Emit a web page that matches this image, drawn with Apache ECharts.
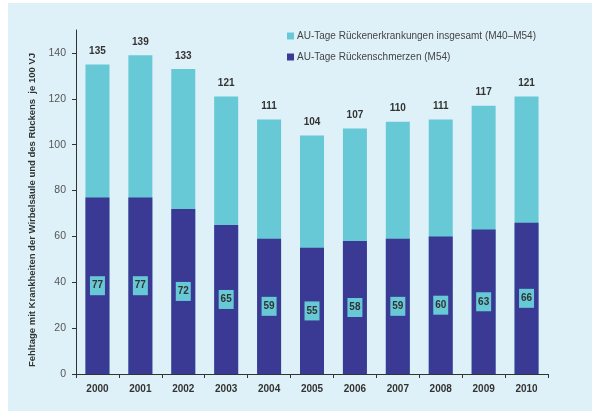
<!DOCTYPE html>
<html>
<head>
<meta charset="utf-8">
<script src="https://cdn.jsdelivr.net/npm/echarts@6/dist/echarts.min.js"></script>
<style>
  html, body { margin: 0; padding: 0; background: #ffffff; }
  #panel { position: absolute; left: 8px; top: 3px; width: 584px; height: 408px; background: #dff1f8; }
  #chart { position: absolute; left: 0; top: 0; width: 592px; height: 411px; }
</style>
</head>
<body>
<div id="panel"></div>
<div id="chart"></div>
<script>
// Jahre
const years = ['2000', '2001', '2002', '2003', '2004', '2005', '2006', '2007', '2008', '2009', '2010'];
// AU-Tage Rückenerkrankungen insgesamt (M40–M54) je 100 VJ
const totalDays = [135, 139, 133, 121, 111, 104, 107, 110, 111, 117, 121];
// AU-Tage Rückenschmerzen (M54) je 100 VJ
const backPainDays = [77, 77, 72, 65, 59, 55, 58, 59, 60, 63, 66];
// Achsenbeschriftung
const yTicks = [0, 20, 40, 60, 80, 100, 120, 140];

const nameTotal = 'AU-Tage Rückenerkrankungen insgesamt (M40–M54)';
const nameBack = 'AU-Tage Rückenschmerzen (M54)';
const cyan = '#67c8d6';
const navy = '#3a3a94';
const font = 'Liberation Sans, Arial, sans-serif';

const chart = echarts.init(document.getElementById('chart'), null, { renderer: 'canvas' });
chart.setOption({
  backgroundColor: 'transparent',
  animation: false,
  textStyle: { fontFamily: font },
  grid: { left: 76, right: 44, top: 30, bottom: 37, containLabel: false },
  legend: {
    orient: 'vertical',
    left: 282,
    top: 25,
    itemWidth: 7,
    itemHeight: 7,
    itemGap: 9,
    icon: 'rect',
    textStyle: { fontSize: 10, color: '#444', fontFamily: font, lineHeight: 12, padding: [0, 0, 0, -2] },
    data: [nameTotal, nameBack]
  },
  xAxis: {
    type: 'category',
    data: years,
    axisLine: { lineStyle: { color: '#333', width: 1 } },
    axisTick: { show: true, length: 4, alignWithLabel: false, lineStyle: { color: '#333' } },
    axisLabel: { color: '#333', fontSize: 10, fontWeight: 'bold', margin: 10, fontFamily: font }
  },
  yAxis: {
    type: 'value',
    min: 0,
    max: 150,
    interval: 20,
    name: 'Fehltage mit Krankheiten der Wirbelsäule und des Rückens  je 100 VJ',
    nameLocation: 'middle',
    nameRotate: 90,
    nameGap: 38,
    nameTextStyle: { fontSize: 9.5, fontWeight: 'bold', color: '#333', fontFamily: font, padding: [0, 0, 0, -16] },
    axisLine: { show: true, lineStyle: { color: '#333', width: 1 } },
    axisTick: { show: true, length: 4, lineStyle: { color: '#333' } },
    splitLine: { show: false },
    axisLabel: {
      color: '#555', fontSize: 10.5, margin: 10, fontFamily: font, showMaxLabel: false,
      formatter: v => (yTicks.indexOf(v) >= 0 ? String(v) : '')
    }
  },
  series: [
    {
      name: nameTotal,
      type: 'bar',
      data: totalDays,
      barWidth: 24,
      barGap: '-100%',
      itemStyle: { color: cyan },
      label: {
        show: true,
        position: 'top',
        distance: 8,
        color: '#333',
        fontSize: 10,
        fontWeight: 'bold',
        fontFamily: font
      },
      z: 2
    },
    {
      name: nameBack,
      type: 'bar',
      data: backPainDays,
      barWidth: 24,
      itemStyle: { color: navy },
      label: {
        show: true,
        position: 'inside',
        color: '#333',
        fontSize: 10,
        fontWeight: 'bold',
        fontFamily: font,
        backgroundColor: cyan,
        width: 15,
        height: 19,
        lineHeight: 19,
        align: 'center',
        verticalAlign: 'middle'
      },
      z: 3
    }
  ]
});
</script>
</body>
</html>
